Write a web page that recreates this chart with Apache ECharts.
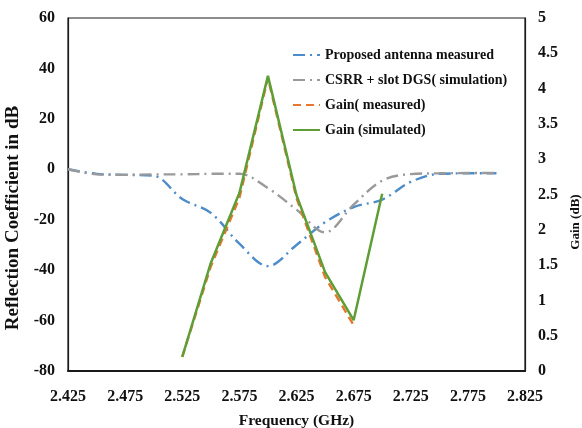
<!DOCTYPE html>
<html>
<head>
<meta charset="utf-8">
<script src="https://cdn.jsdelivr.net/npm/echarts@6/dist/echarts.min.js"></script>
<style>
  html, body { margin: 0; padding: 0; background: #ffffff; }
  #chart { width: 582px; height: 428px; }
</style>
</head>
<body>
<div id="chart"></div>
<script>
// Frequency sweep (GHz) for the reflection-coefficient curves
const freqS11 = [2.425, 2.45, 2.475, 2.5, 2.525, 2.55, 2.575, 2.6, 2.625, 2.65, 2.675, 2.7, 2.725, 2.75, 2.775, 2.8];
// Reflection coefficient (dB)
const proposedMeasured = [0, -1.8, -2.2, -2.6, -11.8, -17.3, -29.5, -38.4, -30, -21, -15, -12, -5, -1.8, -1.6, -1.6];
const csrrSimulation   = [0, -2, -2.2, -2, -2, -1.8, -1.8, -7.5, -16, -25, -14, -4.5, -1.9, -1.6, -1.5, -1.5];

// Frequency points (GHz) for the gain curves
const freqGainSim  = [2.525, 2.55, 2.575, 2.6, 2.625, 2.65, 2.675, 2.7];
const freqGainMeas = [2.525, 2.55, 2.575, 2.6, 2.625, 2.65, 2.675];
// Gain (dB)
const gainSimulated = [0.2, 1.53, 2.52, 4.18, 2.49, 1.4, 0.72, 2.51];
const gainMeasured  = [0.2, 1.48, 2.45, 4.15, 2.45, 1.33, 0.65];

// Labelled frequencies on the horizontal axis
const freqTicks = [2.425, 2.475, 2.525, 2.575, 2.625, 2.675, 2.725, 2.775, 2.825];

const pairs = (xs, ys) => ys.map((y, i) => [xs[i], y]);

const FONT = "'Liberation Serif', 'Times New Roman', serif";
const tickStyle = { fontFamily: FONT, fontWeight: 'bold', fontSize: 16, color: '#111' };

const chart = echarts.init(document.getElementById('chart'), null, { renderer: 'canvas' });

chart.setOption({
  animation: false,
  backgroundColor: '#ffffff',
  grid: {
    left: 68, right: 57, top: 18, bottom: 57,
    outerBoundsMode: 'none',
    show: true, borderColor: '#1a1a1a', borderWidth: 1.2, backgroundColor: 'transparent'
  },
  legend: {
    orient: 'vertical',
    left: 287, top: 43,
    itemWidth: 27, itemHeight: 10, itemGap: 11,
    itemStyle: { opacity: 0 },
    textStyle: { fontFamily: FONT, fontWeight: 'bold', fontSize: 14, color: '#111' },
    data: ['Proposed antenna measured', 'CSRR + slot DGS( simulation)', 'Gain( measured)', 'Gain (simulated)']
  },
  xAxis: {
    type: 'value',
    min: 2.425, max: 2.825,
    name: 'Frequency (GHz)',
    nameLocation: 'middle', nameGap: 42,
    nameTextStyle: { fontFamily: FONT, fontWeight: 'bold', fontSize: 15.5, color: '#111' },
    axisLine: { show: true, onZero: false, lineStyle: { color: '#1a1a1a', width: 2 } },
    axisTick: { show: false },
    splitLine: { show: false },
    axisLabel: {
      ...tickStyle, margin: 18,
      customValues: freqTicks,
      formatter: v => v.toFixed(3)
    }
  },
  yAxis: [
    {
      type: 'value',
      min: -80, max: 60, interval: 20,
      name: 'Reflection Coefficient in dB',
      nameLocation: 'middle', nameGap: 32, nameRotate: 90,
      nameTextStyle: { fontFamily: FONT, fontWeight: 'bold', fontSize: 19, color: '#111', padding: [0, 47, 0, 0] },
      axisLine: { show: true, lineStyle: { color: '#1a1a1a', width: 1.2 } },
      axisTick: { show: false },
      splitLine: { show: false },
      axisLabel: { ...tickStyle, margin: 13 }
    },
    {
      type: 'value',
      min: 0, max: 5, interval: 0.5,
      name: 'Gain (dB)',
      nameLocation: 'middle', nameGap: 41, nameRotate: 90,
      nameTextStyle: { fontFamily: FONT, fontWeight: 'bold', fontSize: 13, color: '#111', padding: [0, 55, 0, 0] },
      axisLine: { show: true, lineStyle: { color: '#1a1a1a', width: 1.2 } },
      axisTick: { show: false },
      splitLine: { show: false },
      axisLabel: { ...tickStyle, margin: 13 }
    }
  ],
  series: [
    {
      name: 'Proposed antenna measured',
      type: 'line', yAxisIndex: 0,
      data: pairs(freqS11, proposedMeasured),
      smooth: 0.35, symbol: 'none',
      lineStyle: { color: '#4d8cca', width: 2.4, type: [12, 5, 2, 5] },
      itemStyle: { color: '#4d8cca' }
    },
    {
      name: 'CSRR + slot DGS( simulation)',
      type: 'line', yAxisIndex: 0,
      data: pairs(freqS11, csrrSimulation),
      smooth: 0.35, symbol: 'none',
      lineStyle: { color: '#9a9a9a', width: 2.4, type: [12, 5, 2, 5] },
      itemStyle: { color: '#9a9a9a' }
    },
    {
      name: 'Gain( measured)',
      type: 'line', yAxisIndex: 1,
      data: pairs(freqGainMeas, gainMeasured),
      symbol: 'none',
      lineStyle: { color: '#e8762d', width: 2.4, type: [8, 5] },
      itemStyle: { color: '#e8762d' }
    },
    {
      name: 'Gain (simulated)',
      type: 'line', yAxisIndex: 1,
      data: pairs(freqGainSim, gainSimulated),
      symbol: 'none',
      lineStyle: { color: '#5f9e36', width: 2.5, type: 'solid' },
      itemStyle: { color: '#5f9e36' }
    }
  ]
});
</script>
</body>
</html>
